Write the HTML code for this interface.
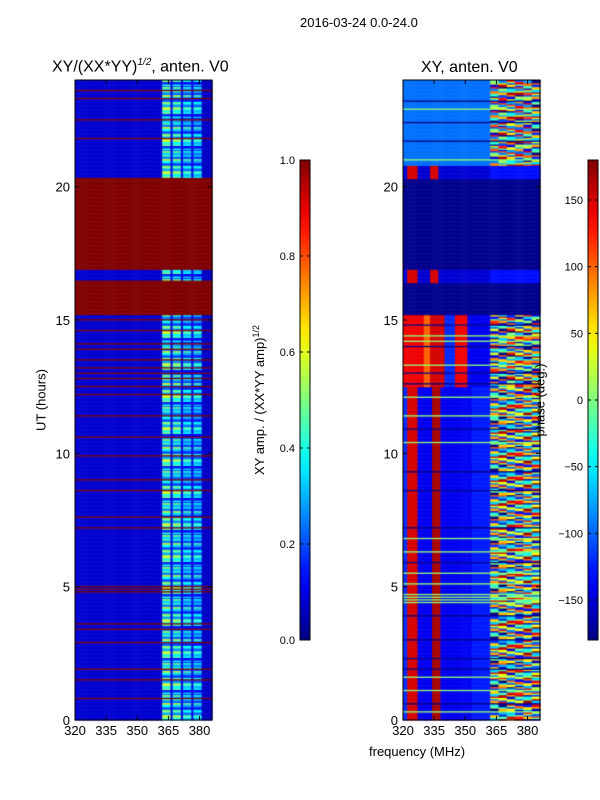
<!DOCTYPE html>
<html><head><meta charset="utf-8"><style>
body{margin:0;background:#fff;font-family:"Liberation Sans",sans-serif;}
#wrap{position:relative;width:600px;height:800px;overflow:hidden}
.t{position:absolute;font-size:12px;color:#000;white-space:nowrap}
</style></head><body><div id="wrap">
<canvas id="c" width="600" height="800" style="position:absolute;left:0;top:0"></canvas>
<svg id="ov" width="600" height="800" style="position:absolute;left:0;top:0"></svg>
<div class="t" style="left:300px;top:15px;font-size:13px">2016-03-24 0.0-24.0</div>
<div class="t" style="left:52px;top:57px;font-size:16px">XY/(XX*YY)<sup style="font-size:10px;font-style:italic">1/2</sup>, anten. V0</div>
<div class="t" style="left:421px;top:59px;font-size:16px">XY, anten. V0</div>
<div class="t" style="left:41px;top:400px;transform:translate(-50%,-50%) rotate(-90deg);font-size:13px">UT (hours)</div>
<div class="t" style="left:259px;top:400px;transform:translate(-50%,-50%) rotate(-90deg);font-size:13px">XY amp. / (XX*YY amp)<sup style="font-size:9px">1/2</sup></div>
<div class="t" style="left:540px;top:400px;transform:translate(-50%,-50%) rotate(-90deg);font-size:13px">phase (deg.)</div>
<div class="t" style="left:369px;top:744px;font-size:13px">frequency (MHz)</div>
</div>
<script>
// ---- data ----
const freqStart=320, freqEnd=386, timeStep=0.05;
const ampSegments=[[320,362,0.08],[362,366,0.42],[366,367,0.1],[367,371,0.38],[371,372,0.1],[372,376,0.32],[376,377,0.1],[377,381,0.3],[381,386,0.07]];
const ampRowMod=[1,1,1.4,1.4,0.7,0.7,1.2,1.2,0.5,0.5,0.9,0.9,1.5,0.6,0.6,1.1,0.8,0.8,1.3,0.6,1.0,0.4,0.4,1.2];
const ampSatBands=[[15.2,16.5],[16.9,20.3]];
const ampLines=[0.8,1.5,1.9,2.9,3.4,3.6,4.8,4.9,5.0,7.2,7.6,8.6,9.0,9.9,10.6,11.4,12.2,12.5,12.8,13.0,13.2,13.5,13.9,14.1,14.6,15.0,20.3,21.8,22.5,23.3,23.6];
const phaseLower=[[320,322,-120],[322,327,150],[327,334,-140],[334,338,165],[338,353,-140],[353,362,-125],[362,366,-60],[366,370,40],[370,374,-90],[374,378,100],[378,382,-70],[382,386,-100]];
const phaseMid=[[320,330,140],[330,333,100],[333,340,150],[340,345,-120],[345,351,140],[351,362,-140],[362,366,90],[366,370,-60],[370,374,120],[374,378,-100],[378,382,60],[382,386,-40]];
const phaseTop=[[320,362,-95],[362,366,-30],[366,370,130],[370,374,-80],[374,378,140],[378,382,-20],[382,386,-60]];
const phaseStrip=[[320,322,-150],[322,327,150],[327,333,-150],[333,337,150],[337,362,-150],[362,386,-130]];
const phaseDark=[[320,386,-175]];
const phaseMixMod=[0,0,120,120,-60,-60,160,-120,-120,60,30,30,-90,140,140,-30,90,-150];
const phaseBlocks=[[0,12.5,0],[12.5,15.2,1],[15.2,16.4,4],[16.4,16.9,3],[16.9,20.3,4],[20.3,20.8,3],[20.8,24,2]];
const phaseGreenLines=[0.3,1.1,1.6,4.4,4.5,4.6,4.7,5.1,5.5,6.3,6.8,10.4,11.4,12.1,13.3,14.2,14.4,21.0,22.9];
const phaseDarkLines=[0.6,1.9,2.3,3.0,3.9,5.9,7.2,8.6,9.3,10.9,12.6,13.0,14.0,14.8,21.7,22.4,23.2];
const ampTicks=[0,0.2,0.4,0.6,0.8,1.0], ampTickLabels=["0.0","0.2","0.4","0.6","0.8","1.0"];
const phaseTicks=[-150,-100,-50,0,50,100,150], phaseTickLabels=["\u2212150","\u2212100","\u221250","0","50","100","150"];
const xTicks=[320,335,350,365,380], yTicks=[0,5,10,15,20];
// ---- layout ----
const P1={x0:75,x1:212,y0:80,y1:720}, P2={x0:403,x1:540,y0:80,y1:720};
const CB1={x:300,w:10,y0:160,y1:640}, CB2={x:588,w:10,y0:160,y1:640};
function xs(p,f){return p.x0+(f-freqStart)/(freqEnd-freqStart)*(p.x1-p.x0);}
function ys(p,t){return p.y1-t/24*(p.y1-p.y0);}
function jet(v){v=Math.max(0,Math.min(1,v));
 const r=Math.min(4*v-1.5,-4*v+4.5),g=Math.min(4*v-0.5,-4*v+3.5),b=Math.min(4*v+0.5,-4*v+2.5);
 const c=x=>Math.round(255*Math.max(0,Math.min(1,x)));return `rgb(${c(r)},${c(g)},${c(b)})`;}
function segVal(segs,f){for(const s of segs)if(f>=s[0]&&f<s[1])return s[2];return segs[segs.length-1][2];}
const ctx=document.getElementById('c').getContext('2d');
const nRows=Math.round(24/timeStep);
function near(list,t){return list.some(l=>Math.abs(l-t)<timeStep/2);}
for(let i=0;i<nRows;i++){const t=i*timeStep;
 for(let f=freqStart;f<freqEnd;f++){
  let a=segVal(ampSegments,f);
  if(f>=362&&f<381&&a>0.2)a=Math.min(0.75,a*ampRowMod[i%ampRowMod.length]);
  if(ampSatBands.some(b=>t>=b[0]&&t<b[1])||near(ampLines,t))a=1;
  ctx.fillStyle=jet(a);
  const xa=xs(P1,f),xb=xs(P1,f+1),ya=ys(P1,t+timeStep),yb=ys(P1,t);
  ctx.fillRect(xa,ya,xb-xa+0.5,yb-ya+0.5);
  const blk=phaseBlocks.find(b=>t>=b[0]&&t<b[1])||phaseBlocks[0];
  const prof=[phaseLower,phaseMid,phaseTop,phaseStrip,phaseDark][blk[2]];
  let p=segVal(prof,f);
  if(f>=362&&blk[2]<3){p+=phaseMixMod[(i+Math.floor((f-362)/4)*3)%phaseMixMod.length];p=((p+180)%360+360)%360-180;}
  if(blk[2]!==4){if(near(phaseGreenLines,t))p=5;else if(near(phaseDarkLines,t))p=-178;}
  ctx.fillStyle=jet((p+180)/360);
  const xc=xs(P2,f),xd=xs(P2,f+1),yc=ys(P2,t+timeStep),yd=ys(P2,t);
  ctx.fillRect(xc,yc,xd-xc+0.5,yd-yc+0.5);
 }}
function cbar(cb){const g=ctx.createLinearGradient(0,cb.y1,0,cb.y0);
 for(let k=0;k<=20;k++)g.addColorStop(k/20,jet(k/20));ctx.fillStyle=g;ctx.fillRect(cb.x,cb.y0,cb.w,cb.y1-cb.y0);}
cbar(CB1);cbar(CB2);
const ov=document.getElementById('ov');const NS='http://www.w3.org/2000/svg';
function el(tag,attrs,txt){const e=document.createElementNS(NS,tag);for(const k in attrs)e.setAttribute(k,attrs[k]);if(txt!==undefined)e.textContent=txt;ov.appendChild(e);return e;}
[[P1,'amp'],[P2,'phase']].forEach(([p,n])=>{
 const fr=el('rect',{x:p.x0,y:p.y0,width:p.x1-p.x0,height:p.y1-p.y0,fill:'none',stroke:'#000','stroke-width':1});
 
 xTicks.forEach((v,i)=>{const x=xs(p,v);
  el('line',{x1:x,x2:x,y1:p.y1,y2:p.y1-4,stroke:'#000'});el('line',{x1:x,x2:x,y1:p.y0,y2:p.y0+4,stroke:'#000'});
  const tx=el('text',{x:x,y:p.y1+15,'text-anchor':'middle','font-size':13,'font-family':'Liberation Sans'},String(v));
  });
 yTicks.forEach(v=>{const y=ys(p,v);
  el('line',{x1:p.x0,x2:p.x0+4,y1:y,y2:y,stroke:'#000'});el('line',{x1:p.x1,x2:p.x1-4,y1:y,y2:y,stroke:'#000'});
  const tx=el('text',{x:p.x0-5,y:y+5,'text-anchor':'end','font-size':13,'font-family':'Liberation Sans'},String(v));
  });
});
function cbAxis(cb,ticks,labels,lo,hi,n){
 const r=el('rect',{x:cb.x,y:cb.y0,width:cb.w,height:cb.y1-cb.y0,fill:'none',stroke:'#000'});
 
 ticks.forEach((v,i)=>{const y=cb.y1-(v-lo)/(hi-lo)*(cb.y1-cb.y0);
  el('line',{x1:cb.x,x2:cb.x+3,y1:y,y2:y,stroke:'#000'});el('line',{x1:cb.x+cb.w,x2:cb.x+cb.w-3,y1:y,y2:y,stroke:'#000'});
  const tx=el('text',{x:cb.x-5,y:y+4,'text-anchor':'end','font-size':11,'font-family':'Liberation Sans'},labels[i]);
  });}
cbAxis(CB1,ampTicks,ampTickLabels,0,1,'amp');
cbAxis(CB2,phaseTicks,phaseTickLabels,-180,180,'phase');
</script></body></html>
